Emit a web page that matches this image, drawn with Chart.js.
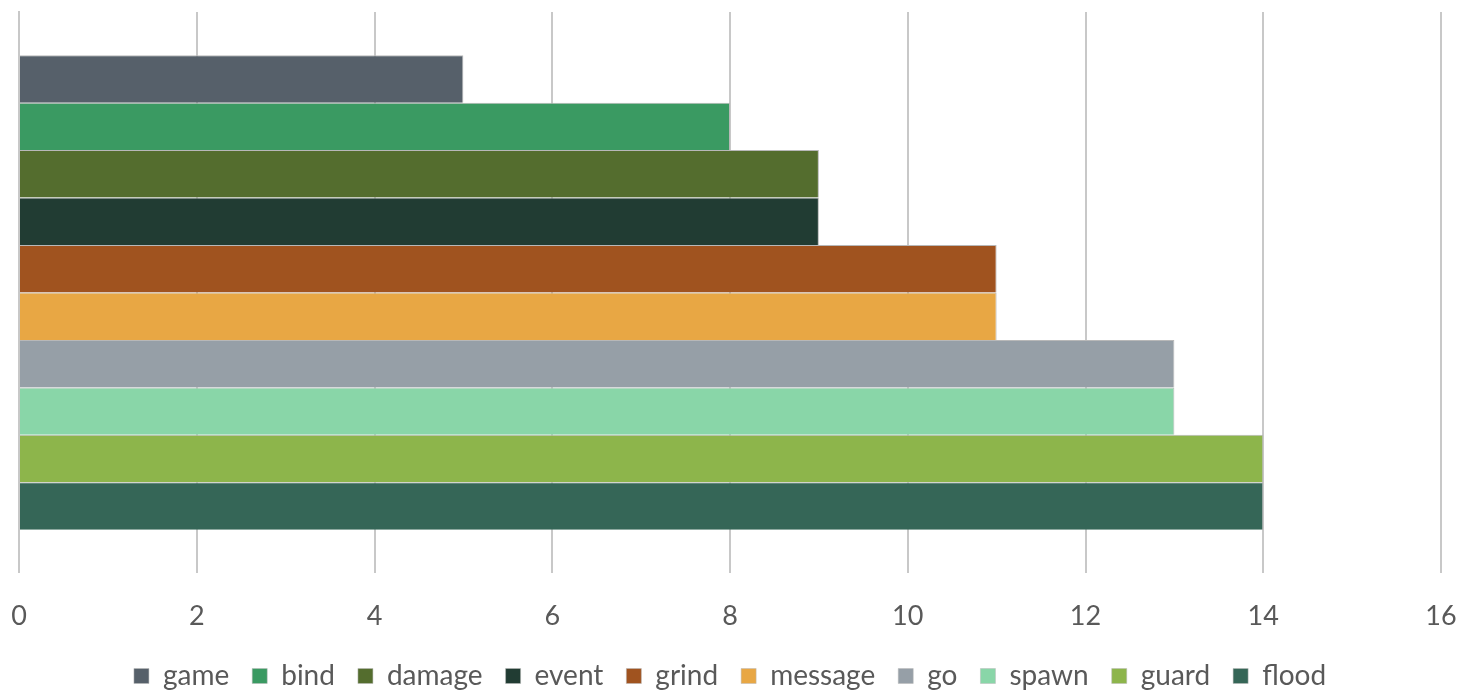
<!DOCTYPE html>
<html>
<head>
<meta charset="utf-8">
<script src="https://cdn.jsdelivr.net/npm/chart.js@4"></script>
<style>
html,body{margin:0;padding:0;background:#fff;}
#wrap{width:1463px;height:694px;}
</style>
</head>
<body>
<div id="wrap"><canvas id="c" width="1463" height="694"></canvas></div>
<script>
const categories = [""];
const seriesNames = ["game","bind","damage","event","grind","message","go","spawn","guard","flood"];
const seriesValues = [5, 8, 9, 9, 11, 11, 13, 13, 14, 14];
const seriesColors = ["#56606a","#3a9a62","#546d2e","#213c33","#a0531f","#e8a744","#969fa7","#89d6a8","#8db54b","#356657"];
const xTicks = [0,2,4,6,8,10,12,14,16];

const datasets = seriesNames.map((n,i)=>({
  label: n,
  data: [seriesValues[i]],
  backgroundColor: seriesColors[i],
  borderColor: "#b8b8b8",
  borderWidth: {top:1,right:1,bottom:0,left:0},
  borderSkipped: false,
  barPercentage: 1,
  categoryPercentage: 0.846
}));

new Chart(document.getElementById('c'), {
  type: 'bar',
  data: { labels: categories, datasets },
  options: {
    indexAxis: 'y',
    responsive: false,
    animation: false,
    devicePixelRatio: 1,
    layout: { padding: { left: 19, right: 22, top: 12, bottom: -6 } },
    scales: {
      x: {
        min: 0, max: 16,
        afterBuildTicks: (ax)=>{ ax.ticks = xTicks.map(v=>({value:v})); },
        grid: { color: "#c8c8c8", lineWidth: 2, drawTicks: true, tickLength: 21, tickColor: "rgba(0,0,0,0)" },
        border: { display: false },
        ticks: { color: "#595959", padding: 2, font: { family: "Lato", size: 27, lineHeight: 1.52 } }
      },
      y: {
        afterFit: (s)=>{ s.width = 0; },
        grid: { display: false },
        border: { display: true, color: "#c8c8c8", width: 2 },
        ticks: { display: false }
      }
    },
    plugins: {
      legend: {
        position: 'bottom',
        labels: { color: "#595959", boxWidth: 15, boxHeight: 15, padding: 23, font: { family: "Lato", size: 28 } }
      },
      tooltip: { enabled: false }
    }
  }
});
</script>
</body>
</html>
